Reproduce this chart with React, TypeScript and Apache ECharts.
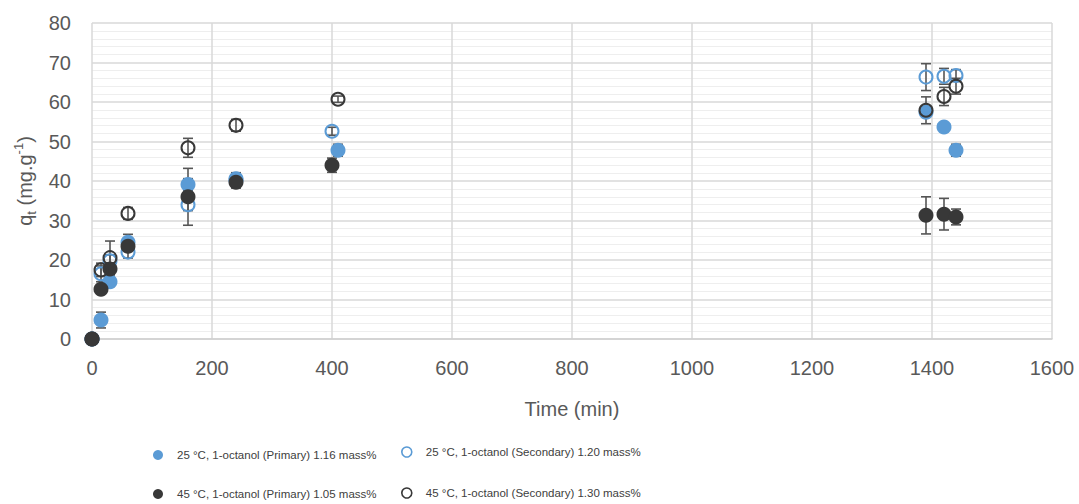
import { useEffect, useRef } from "react";
import * as echarts from "echarts";

// Sampling times (min); the 400/410 min points are offset between runs
const timeA = [0, 15, 30, 60, 160, 240, 410, 1390, 1420, 1440];
const timeB = [0, 15, 30, 60, 160, 240, 400, 1390, 1420, 1440];

// Adsorbed amount q_t (mg/g) and standard deviation per run
const primary25 = [0, 4.8, 14.5, 24.5, 39.1, 40.6, 47.8, 57.4, 53.7, 47.8];
const primary25Err = [0, 2, 1.2, 2, 1.5, 1.5, 1.5, 1, 0.8, 1.5];
const secondary25 = [0, 16.5, 19.8, 22, 34, 40.2, 52.6, 66.3, 66.5, 66.7];
const secondary25Err = [0, 2, 1.5, 1.5, 1.5, 1.5, 1, 3.4, 2, 1.5];
const primary45 = [0, 12.6, 17.7, 23.5, 36, 39.7, 44, 31.3, 31.6, 30.9];
const primary45Err = [0, 1, 1.5, 1, 7.2, 1.5, 1.8, 4.7, 4, 2];
const secondary45 = [0, 17.5, 20.6, 31.8, 48.4, 54.1, 60.7, 57.9, 61.4, 64];
const secondary45Err = [0, 1.7, 4.2, 1.5, 2.4, 1.5, 0.8, 3.4, 2.3, 2];

const names = [
  "25 °C, 1-octanol (Primary) 1.16 mass%",
  "25 °C, 1-octanol (Secondary) 1.20 mass%",
  "45 °C, 1-octanol (Primary) 1.05 mass%",
  "45 °C, 1-octanol (Secondary) 1.30 mass%",
];

const BLUE = "#5b9bd5";
const DARK = "#383838";
const TEXT = "#595959";
const FONT = "'Liberation Sans', Arial, sans-serif";

const zip = (t: number[], v: number[], e: number[]) =>
  t.map((x, i) => [x, v[i], e[i]]);

const runs = [
  { name: names[0], data: zip(timeA, primary25, primary25Err), filled: true, color: BLUE },
  { name: names[1], data: zip(timeB, secondary25, secondary25Err), filled: false, color: BLUE },
  { name: names[2], data: zip(timeB, primary45, primary45Err), filled: true, color: DARK },
  { name: names[3], data: zip(timeA, secondary45, secondary45Err), filled: false, color: DARK },
];

const renderErrorBar = (_params: any, api: any) => {
  const x = api.value(0);
  const y = api.value(1);
  const e = api.value(2);
  if (!e) return null;
  const hi = api.coord([x, y + e]);
  const lo = api.coord([x, y - e]);
  const half = 5;
  const style = { stroke: "#555555", lineWidth: 1.6 };
  return {
    type: "group",
    children: [
      { type: "line", shape: { x1: hi[0], y1: hi[1], x2: lo[0], y2: lo[1] }, style },
      { type: "line", shape: { x1: hi[0] - half, y1: hi[1], x2: hi[0] + half, y2: hi[1] }, style },
      { type: "line", shape: { x1: lo[0] - half, y1: lo[1], x2: lo[0] + half, y2: lo[1] }, style },
    ],
  };
};

const markerStyle = (filled: boolean, color: string) =>
  filled
    ? { color, borderWidth: 0, opacity: 1 }
    : { color: "rgba(0,0,0,0)", borderColor: color, borderWidth: 2, opacity: 1 };

// One legend per entry, laid out as two columns under the plot
const legendSlots = [
  { left: 153, top: 448 },
  { left: 401, top: 445 },
  { left: 153, top: 487 },
  { left: 401, top: 486 },
];

const makeLegend = (i: number) => ({
  orient: "horizontal",
  left: legendSlots[i].left,
  top: legendSlots[i].top,
  padding: 0,
  itemWidth: 10,
  itemHeight: 10,
  data: [
    {
      name: runs[i].name,
      icon: "circle",
      itemStyle: runs[i].filled
        ? { color: runs[i].color, borderWidth: 0 }
        : { color: "#ffffff", borderColor: runs[i].color, borderWidth: 1.6 },
    },
  ],
  textStyle: {
    color: "#404040",
    fontFamily: FONT,
    fontSize: 11.5,
    lineHeight: 14,
    padding: [0, 0, 0, 9],
  },
});

export default function App() {
  const ref = useRef<HTMLDivElement>(null);

  useEffect(() => {
    if (!ref.current) return;
    const chart = echarts.init(ref.current, undefined, { renderer: "svg" });

    const errorSeries = runs.map((r, i) => ({
      type: "custom",
      name: "sd" + i,
      renderItem: renderErrorBar,
      encode: { x: 0, y: 1 },
      data: r.data,
      z: 1,
      silent: true,
    }));

    const pointSeries = runs.map((r) => ({
      type: "scatter",
      name: r.name,
      data: r.data.map((d) => [d[0], d[1]]),
      symbol: "circle",
      symbolSize: r.filled ? 15 : 13,
      itemStyle: markerStyle(r.filled, r.color),
      z: 2,
    }));

    chart.setOption({
      animation: false,
      backgroundColor: "#ffffff",
      textStyle: { fontFamily: FONT },
      grid: { left: 92, right: 27, top: 23, bottom: 165 },
      xAxis: {
        type: "value",
        min: 0,
        max: 1600,
        interval: 200,
        name: "Time (min)",
        nameLocation: "middle",
        nameGap: 60,
        nameTextStyle: { color: TEXT, fontSize: 20, fontFamily: FONT },
        axisLine: { show: true, lineStyle: { color: "#cfcfcf", width: 1.5 } },
        axisTick: { show: false },
        axisLabel: {
          color: TEXT,
          fontSize: 20,
          margin: 19,
          fontFamily: FONT,
          formatter: (v: number) => String(v),
        },
        splitLine: { show: true, lineStyle: { color: "#d9d9d9", width: 1.5 } },
      },
      yAxis: {
        type: "value",
        min: 0,
        max: 80,
        interval: 10,
        name: "{a|q}{sub|t}{a| (mg.g}{sup|-1}{a|)}",
        nameLocation: "middle",
        nameRotate: 90,
        nameGap: 43,
        nameTextStyle: {
          rich: {
            a: { color: TEXT, fontSize: 20, lineHeight: 26, fontFamily: FONT },
            sub: { color: TEXT, fontSize: 13, lineHeight: 13, verticalAlign: "bottom", fontFamily: FONT },
            sup: { color: TEXT, fontSize: 13, lineHeight: 13, verticalAlign: "top", fontFamily: FONT },
          },
        },
        axisLine: { show: false },
        axisTick: { show: false },
        axisLabel: { color: TEXT, fontSize: 20, margin: 21, fontFamily: FONT },
        splitLine: { show: true, lineStyle: { color: "#d9d9d9", width: 1.5 } },
        minorTick: { show: false, splitNumber: 5 },
        minorSplitLine: { show: true, lineStyle: { color: "#eeeeee", width: 1.2 } },
      },
      legend: [0, 1, 2, 3].map(makeLegend),
      series: [...errorSeries, ...pointSeries],
    });

    return () => chart.dispose();
  }, []);

  return (
    <div
      ref={ref}
      style={{ position: "absolute", left: 0, top: 0, width: 1079, height: 504 }}
    />
  );
}
